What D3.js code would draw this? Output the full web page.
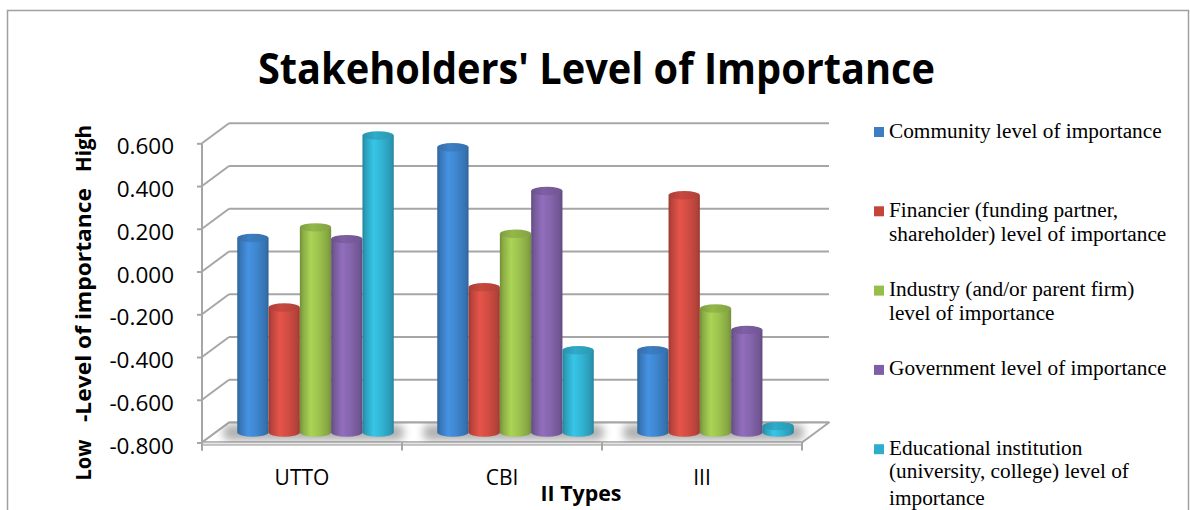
<!DOCTYPE html>
<html>
<head>
<meta charset="utf-8">
<script src="https://cdn.jsdelivr.net/npm/d3@7"></script>
<style>
  body { margin: 0; background: #fff; }
  svg { display: block; }
</style>
</head>
<body>
<svg id="chart" width="1190" height="510"></svg>
<script>
// ---- data ----
const categories = ["UTTO", "CBI", "III"];
const seriesNames = [
  "Community level of importance",
  "Financier (funding partner, shareholder) level of importance",
  "Industry (and/or parent firm) level of importance",
  "Government level of importance",
  "Educational institution (university, college) level of importance"
];
const community   = [0.110, 0.535, -0.415];
const financier   = [-0.215, -0.120, 0.310];
const industry    = [0.160, 0.130, -0.220];
const government  = [0.105, 0.330, -0.320];
const educational = [0.590, -0.415, -0.770];
const yTicks = [-0.8, -0.6, -0.4, -0.2, 0.0, 0.2, 0.4, 0.6];
const legendLines = [
  ["Community level of importance"],
  ["Financier (funding partner,", "shareholder) level of importance"],
  ["Industry (and/or parent firm)", "level of importance"],
  ["Government level of importance"],
  ["Educational institution", "(university, college) level of", "importance"]
];

const seriesValues = [community, financier, industry, government, educational];
const baseColors  = ["#3F86CF", "#D24D43", "#9CC24E", "#8565AD", "#32B4D3"];
const keyColors   = ["#3D7EC3", "#C6453B", "#97BD4B", "#7D5FA8", "#2FAECB"];

// ---- layout ----
const svg = d3.select("#chart");
const depthX = 27, depthY = -20;        // offset of the back wall from the front plane
const gridColor = "#A6A6A6";

const x = d3.scaleBand().domain(categories).range([202, 802]).paddingInner(0).paddingOuter(0);
const y = d3.scaleLinear().domain([-0.8, 0.6]).range([442.5, 143.3]);
const groupWidth = 156.5;
const xs = d3.scaleBand().domain(d3.range(seriesValues.length)).range([0, groupWidth]);

const fmt = d3.formatLocale({decimal: ".", thousands: ",", grouping: [3], currency: ["", ""], minus: "-"}).format(".3f");

const defs = svg.append("defs");

// outer frame
svg.append("rect")
  .attr("x", 7.5).attr("y", 10.5).attr("width", 1181).attr("height", 520)
  .attr("fill", "none").attr("stroke", "#A0A0A0").attr("stroke-width", 1.5);

// title
svg.append("text")
  .attr("x", 596.5).attr("y", 83.5)
  .attr("text-anchor", "middle")
  .attr("font-family", "'Open Sans', sans-serif")
  .attr("font-weight", 700).attr("font-size", 43)
  .attr("textLength", 677).attr("lengthAdjust", "spacingAndGlyphs")
  .attr("fill", "#000")
  .text("Stakeholders' Level of Importance");

// ---- walls and grid ----
const x0 = x.range()[0], x1 = x.range()[1];
const grid = svg.append("g");
yTicks.forEach(t => {
  const yf = y(t);
  // side wall diagonal
  grid.append("line")
    .attr("x1", x0).attr("y1", yf).attr("x2", x0 + depthX).attr("y2", yf + depthY)
    .attr("stroke", gridColor).attr("stroke-width", 2);
  // back wall horizontal
  grid.append("line")
    .attr("x1", x0 + depthX).attr("y1", yf + depthY).attr("x2", x1 + depthX).attr("y2", yf + depthY)
    .attr("stroke", gridColor).attr("stroke-width", 2);
});

// floor
const yFloor = y(-0.8);
const floorPts = [[x0, yFloor], [x1, yFloor], [x1 + depthX, yFloor + depthY], [x0 + depthX, yFloor + depthY]];
svg.append("path")
  .attr("d", "M" + floorPts.map(p => p.join(",")).join("L") + "Z")
  .attr("fill", "#fff").attr("stroke", gridColor).attr("stroke-width", 2)
  .attr("stroke-linejoin", "round");
// front edge of floor slab
svg.append("rect")
  .attr("x", x0).attr("y", yFloor - 0.5).attr("width", x1 - x0).attr("height", 3)
  .attr("fill", "#E6E6E6").attr("stroke", gridColor).attr("stroke-width", 1.2);

defs.append("clipPath").attr("id", "floorClip")
  .append("path").attr("d", "M" + floorPts.map(p => p.join(",")).join("L") + "Z");
const blur = defs.append("filter").attr("id", "soft").attr("x", "-20%").attr("y", "-50%").attr("width", "140%").attr("height", "200%");
blur.append("feGaussianBlur").attr("stdDeviation", 4);

// shadows under each group
const midX = depthX / 2, midY = depthY / 2;
const groupLeft = c => x(c) + (x.bandwidth() - groupWidth) / 2 + midX;
svg.append("g").attr("clip-path", "url(#floorClip)")
  .selectAll("rect").data(categories).join("rect")
  .attr("x", c => groupLeft(c) - 14)
  .attr("y", yFloor + midY - 8)
  .attr("width", groupWidth + 24)
  .attr("height", 16)
  .attr("rx", 6)
  .attr("fill", "#6f6f6f").attr("opacity", 0.55)
  .attr("filter", "url(#soft)");

// ---- axes ----
const yAxis = d3.axisLeft(y).tickValues(yTicks).tickSize(5).tickPadding(23).tickFormat(fmt);
const gy = svg.append("g").attr("transform", `translate(${x0},0)`).call(yAxis);
gy.select(".domain").remove();
gy.selectAll(".tick line").attr("stroke", gridColor).attr("stroke-width", 2);
gy.selectAll(".tick text")
  .attr("dy", "10.5px")
  .attr("font-family", "'Open Sans', sans-serif").attr("font-size", 22.5).attr("fill", "#000");
svg.append("line")
  .attr("x1", x0).attr("y1", y(0.6)).attr("x2", x0).attr("y2", yFloor + 8)
  .attr("stroke", gridColor).attr("stroke-width", 2);

const xAxis = d3.axisBottom(x).tickSize(0).tickPadding(27.6);
const gx = svg.append("g").attr("transform", `translate(0,${yFloor})`).call(xAxis);
gx.select(".domain").remove();
gx.selectAll(".tick text")
  .attr("font-family", "'Open Sans', sans-serif").attr("font-size", 21).attr("fill", "#000");
// category boundary ticks
const edges = categories.map(c => x(c)).concat([x1]);
svg.append("g").selectAll("line").data(edges).join("line")
  .attr("x1", d => d).attr("x2", d => d)
  .attr("y1", yFloor).attr("y2", yFloor + 8)
  .attr("stroke", gridColor).attr("stroke-width", 2);

// axis titles
const yTitle = svg.append("g").attr("font-family", "'Open Sans', sans-serif")
  .attr("font-weight", 700).attr("font-size", 21.5).attr("fill", "#000");
[["High", 148.5, 47], ["-Level of importance", 305, 234], ["Low", 460, 41]].forEach(([t, cy, len]) => {
  yTitle.append("text")
    .attr("transform", `translate(90.5,${cy}) rotate(-90)`)
    .attr("text-anchor", "middle")
    .attr("textLength", len).attr("lengthAdjust", "spacingAndGlyphs")
    .text(t);
});
svg.append("text")
  .attr("x", 581).attr("y", 500.5).attr("text-anchor", "middle")
  .attr("font-family", "'Open Sans', sans-serif").attr("font-weight", 700).attr("font-size", 21)
  .attr("textLength", 81).attr("lengthAdjust", "spacingAndGlyphs")
  .text("II Types");

// ---- cylinder gradients ----
baseColors.forEach((c, i) => {
  const base = d3.color(c);
  const g = defs.append("linearGradient").attr("id", "body" + i).attr("x1", 0).attr("x2", 1).attr("y1", 0).attr("y2", 0);
  [[0, base.darker(0.85)], [0.1, base.darker(0.35)], [0.35, base.brighter(0.25)], [0.62, base], [0.9, base.darker(0.45)], [1, base.darker(0.85)]]
    .forEach(([o, col]) => g.append("stop").attr("offset", o).attr("stop-color", col.formatHex()));
  const t = defs.append("linearGradient").attr("id", "top" + i).attr("x1", 0).attr("x2", 1).attr("y1", 0).attr("y2", 0);
  [[0, base.darker(0.6)], [0.4, base.darker(0.15)], [1, base.darker(0.5)]]
    .forEach(([o, col]) => t.append("stop").attr("offset", o).attr("stop-color", col.formatHex()));
});

// ---- bars (cylinders) ----
const ry = 4.2;
const barData = [];
categories.forEach((c, ci) => {
  seriesValues.forEach((vals, si) => {
    barData.push({c, si, v: vals[ci]});
  });
});
const bars = svg.append("g").selectAll("g").data(barData).join("g");
bars.append("path")
  .attr("d", d => {
    const left = groupLeft(d.c) + xs(d.si);
    const w = xs.bandwidth();
    const top = y(d.v) + midY;
    const bottom = yFloor + midY;
    return `M${left},${top}L${left},${bottom}A${w / 2},${ry} 0 0 0 ${left + w},${bottom}L${left + w},${top}Z`;
  })
  .attr("fill", d => `url(#body${d.si})`);
bars.append("ellipse")
  .attr("cx", d => groupLeft(d.c) + xs(d.si) + xs.bandwidth() / 2)
  .attr("cy", d => y(d.v) + midY)
  .attr("rx", xs.bandwidth() / 2)
  .attr("ry", ry)
  .attr("fill", d => `url(#top${d.si})`);

// ---- legend ----
const legend = svg.append("g").attr("font-family", "'Liberation Serif', 'Times New Roman', serif")
  .attr("font-size", 21.3).attr("fill", "#000");
legendLines.forEach((lines, i) => {
  const by = 137.5 + i * 79.3;
  legend.append("rect")
    .attr("x", 874).attr("y", by - 10.5).attr("width", 10).attr("height", 10)
    .attr("fill", keyColors[i]);
  const t = legend.append("text").attr("x", 889).attr("y", by);
  lines.forEach((ln, k) => {
    t.append("tspan").attr("x", 889).attr("dy", k === 0 ? 0 : (k === 2 ? 27 : 23.7)).text(ln);
  });
});
</script>
</body>
</html>
